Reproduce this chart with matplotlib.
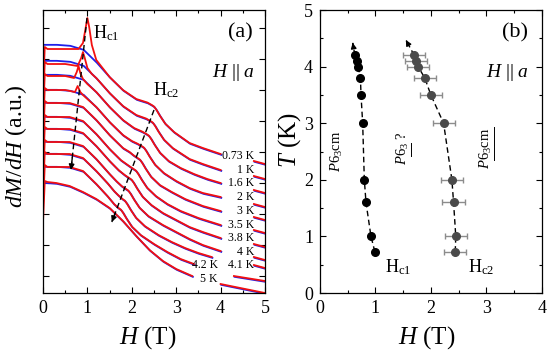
import numpy as np
import matplotlib
matplotlib.use("Agg")
import matplotlib.pyplot as plt
from matplotlib.ticker import MultipleLocator, NullFormatter
from matplotlib.transforms import offset_copy

plt.rcParams["font.family"] = "Liberation Serif"
plt.rcParams["mathtext.fontset"] = "custom"
plt.rcParams["mathtext.rm"] = "Liberation Serif"
plt.rcParams["mathtext.it"] = "Liberation Serif:italic"
plt.rcParams["mathtext.bf"] = "Liberation Serif:bold"

RED = "#f21010"
BLUE = "#2020e8"

# ---- panel (a): dM/dH curves, stacked (a.u.) ----
temps = ["0.73 K", "1 K", "1.6 K", "2 K", "3 K", "3.5 K", "3.8 K", "4 K", "4.1 K", "4.2 K", "5 K"]

# down sweep (blue), full curve up to where the label starts
sweep_h = [
    [0, 0.3, 0.6, 0.9, 1.2, 1.5, 1.8, 2.1, 2.35, 2.45, 2.5, 2.55, 2.63, 2.75, 2.95, 3.3, 3.6, 4.0],
    [0, 0.3, 0.6, 0.9, 1.2, 1.5, 1.8, 2.1, 2.32, 2.42, 2.47, 2.52, 2.6, 2.72, 2.92, 3.3, 3.6, 4.0],
    [0, 0.3, 0.6, 0.9, 1.2, 1.5, 1.8, 2.05, 2.23, 2.33, 2.38, 2.43, 2.51, 2.63, 2.83, 3.1, 3.4, 3.7, 4.0],
    [0, 0.3, 0.6, 0.9, 1.2, 1.5, 1.8, 2.0, 2.12, 2.22, 2.27, 2.32, 2.4, 2.52, 2.72, 3.0, 3.3, 3.6, 4.0],
    [0, 0.3, 0.6, 0.9, 1.2, 1.5, 1.8, 1.95, 2.03, 2.13, 2.18, 2.23, 2.31, 2.43, 2.63, 2.9, 3.2, 3.6, 4.0],
    [0, 0.3, 0.6, 0.9, 1.2, 1.5, 1.75, 1.94, 2.04, 2.09, 2.14, 2.22, 2.34, 2.54, 2.8, 3.1, 3.5, 4.0],
    [0, 0.3, 0.6, 0.9, 1.2, 1.5, 1.7, 1.84, 1.94, 1.99, 2.04, 2.12, 2.24, 2.44, 2.7, 3.0, 3.3, 3.6, 4.0],
    [0, 0.3, 0.6, 0.9, 1.2, 1.5, 1.65, 1.77, 1.87, 1.92, 1.97, 2.05, 2.17, 2.37, 2.7, 3.0, 3.3, 3.6, 4.0],
    [0, 0.3, 0.6, 0.9, 1.2, 1.45, 1.6, 1.69, 1.79, 1.84, 1.89, 1.97, 2.09, 2.29, 2.6, 2.9, 3.2, 3.5, 3.8],
    [0, 0.3, 0.6, 0.9, 1.2, 1.45, 1.6, 1.7, 1.75, 1.8, 1.88, 2.0, 2.2, 2.5, 2.8, 3.1, 3.4],
    [0, 0.3, 0.6, 0.9, 1.2, 1.5, 1.8, 2.1, 2.4, 2.7, 3.0, 3.36],
]
sweep_dn = [
    [25.6, 25.6, 25.5, 25.1, 23.8, 22.3, 21.0, 20.1, 19.75, 19.5, 19.35, 19.05, 18.45, 17.65, 16.8, 15.7, 15.2, 14.6],
    [24.0, 24.0, 23.9, 23.5, 22.2, 20.7, 19.4, 18.5, 18.15, 17.9, 17.75, 17.45, 16.85, 16.05, 15.2, 14.1, 13.6, 13.0],
    [22.6, 22.6, 22.5, 22.1, 20.8, 19.3, 18.0, 17.2, 16.85, 16.6, 16.45, 16.15, 15.55, 14.75, 13.9, 13.2, 12.6, 12.1, 11.7],
    [21.1, 21.1, 21.0, 20.6, 19.3, 17.8, 16.5, 15.9, 15.65, 15.4, 15.25, 14.95, 14.35, 13.55, 12.7, 11.9, 11.2, 10.7, 10.3],
    [19.8, 19.8, 19.7, 19.3, 18.0, 16.5, 15.2, 14.8, 14.5, 14.2, 14.05, 13.75, 13.15, 12.35, 11.5, 10.8, 10.1, 9.4, 8.9],
    [18.4, 18.4, 18.3, 17.9, 16.6, 15.1, 14.0, 13.4, 13.1, 12.95, 12.65, 12.05, 11.25, 10.4, 9.6, 8.9, 8.2, 7.5],
    [17.2, 17.2, 17.1, 16.7, 15.4, 13.9, 13.0, 12.5, 12.2, 12.05, 11.75, 11.15, 10.35, 9.5, 8.7, 8.0, 7.3, 6.8, 6.2],
    [15.9, 15.9, 15.8, 15.4, 14.1, 12.6, 11.9, 11.4, 11.1, 10.95, 10.65, 10.05, 9.25, 8.4, 7.5, 6.8, 6.1, 5.5, 4.9],
    [14.7, 14.7, 14.6, 14.2, 12.9, 11.7, 10.9, 10.5, 10.1, 9.95, 9.65, 9.05, 8.25, 7.4, 6.5, 5.8, 5.2, 4.7, 4.3],
    [13.4, 13.4, 13.3, 12.9, 11.6, 10.4, 9.6, 9.2, 9.05, 8.75, 8.15, 7.35, 6.5, 5.6, 4.8, 4.1, 3.6],
    [11.8, 11.7, 11.4, 10.8, 10.1, 9.2, 7.9, 6.4, 5.0, 3.9, 3.1, 2.4],
]

# up sweep (red) at low field, where it differs from the down sweep
up_h = [
    [0, 0.04, 0.1, 0.5, 0.8, 0.9, 0.96, 1.0, 1.04, 1.1, 1.2],
    [0, 0.04, 0.1, 0.5, 0.78, 0.86, 0.9, 0.94, 1.0, 1.1],
    [0, 0.04, 0.1, 0.5, 0.7, 0.76, 0.8, 0.84, 0.9, 1.0],
    [0, 0.04, 0.1, 0.5, 0.72, 0.78, 0.84, 0.9, 1.0],
    [0, 0.04, 0.1, 0.5],
    [0, 0.04, 0.1, 0.5],
    [0, 0.04, 0.1, 0.5],
    [0, 0.04, 0.1, 0.5],
    [0, 0.04, 0.1, 0.5],
    [0, 0.04, 0.1, 0.5],
    [0, 0.04, 0.1, 0.3],
]
up_low = [
    [21.1, 25.3, 25.1, 25.1, 25.1, 25.7, 27.2, 28.2, 27.3, 25.5, 24.0],
    [19.6, 23.8, 23.6, 23.6, 23.4, 24.2, 24.8, 24.2, 23.2, 22.6],
    [18.4, 22.6, 22.4, 22.4, 22.2, 22.8, 23.4, 22.7, 22.1, 21.6],
    [16.9, 21.2, 21.0, 21.0, 20.8, 21.4, 20.8, 20.5, 20.1],
    [15.8, 19.9, 19.7, 19.7],
    [14.4, 18.5, 18.3, 18.3],
    [13.2, 17.3, 17.1, 17.1],
    [11.9, 16.0, 15.8, 15.8],
    [10.7, 14.8, 14.6, 14.6],
    [9.4, 13.5, 13.3, 13.3],
    [7.8, 11.9, 11.8, 11.7],
]

# short pieces of the curves right of the labels
tail_h = [[4.75, 5.0]] * 9 + [[4.3, 5.0], [4.0, 5.0]]
tail_m = [
    [13.9, 13.6], [12.4, 12.1], [11.0, 10.7], [9.6, 9.3], [8.3, 8.0],
    [7.0, 6.7], [5.6, 5.3], [4.3, 4.0], [3.5, 3.2], [2.4, 1.9], [1.6, 0.7],
]
label_h = [4.75] * 9 + [3.94, 3.94]
label_m = [14.4, 13.0, 11.7, 10.3, 8.9, 7.5, 6.2, 4.8, 3.5, 3.5, 2.1]

# ---- panel (b): phase diagram ----
t_pts = [0.73, 1.0, 1.6, 2.0, 3.0, 3.5, 3.8, 4.0, 4.1, 4.2]
hc1 = [0.99, 0.92, 0.83, 0.80, 0.77, 0.74, 0.73, 0.69, 0.67, 0.63]
hc2 = [2.44, 2.45, 2.41, 2.38, 2.23, 2.00, 1.89, 1.77, 1.73, 1.70]
hc2_err = [0.2] * 10


def style_axes(ax):
    ax.tick_params(which="both", direction="in", top=True, right=True, width=0.8)
    ax.tick_params(which="major", length=4, labelsize=13, pad=5,
                   labelfontfamily="Liberation Serif")
    ax.tick_params(which="minor", length=2.3)
    for sp in ax.spines.values():
        sp.set_linewidth(0.9)


def dashed_arrow(ax, start, tip):
    ax.plot([start[0], tip[0]], [start[1], tip[1]], color="k", lw=1, dashes=(4, 2.5))
    back = (tip[0] - 0.08 * (tip[0] - start[0]), tip[1] - 0.08 * (tip[1] - start[1]))
    ax.annotate("", xy=tip, xytext=back,
                arrowprops=dict(arrowstyle="-|>", color="k", lw=1, mutation_scale=8,
                                shrinkA=0, shrinkB=0))


def underline(ax, txt, f0, f1):
    # mathtext has no \underline: draw it beside the rotated text
    bb = txt.get_window_extent().transformed(ax.transData.inverted())
    y0 = bb.y0 + f0 * (bb.y1 - bb.y0)
    y1 = bb.y0 + f1 * (bb.y1 - bb.y0)
    ax.plot([bb.x1 - 0.005, bb.x1 - 0.005], [y0, y1], color="k", lw=0.7)


fig = plt.figure(figsize=(5.5, 3.51), dpi=100)
ax_a = fig.add_axes([0.0782, 0.1652, 0.4036, 0.8063])
ax_b = fig.add_axes([0.5818, 0.1652, 0.4031, 0.8063])

# panel (a)
shift = offset_copy(ax_a.transData, fig=fig, x=0.5, y=-0.6, units="points")
for i in range(len(temps)):
    ax_a.plot(sweep_h[i], sweep_dn[i], color=BLUE, lw=1.3, transform=shift)
    ax_a.plot(tail_h[i], tail_m[i], color=BLUE, lw=1.3, transform=shift)
for i in range(len(temps)):
    h = np.array(sweep_h[i])
    m = np.array(sweep_dn[i])
    keep = h > up_h[i][-1]
    ax_a.plot(np.concatenate([up_h[i], h[keep]]), np.concatenate([up_low[i], m[keep]]),
              color=RED, lw=1.3)
    ax_a.plot(tail_h[i], tail_m[i], color=RED, lw=1.3)
    ax_a.text(label_h[i], label_m[i], temps[i], fontsize=8.5, ha="right", va="center")

dashed_arrow(ax_a, (0.99, 28.2), (0.63, 13.0))
dashed_arrow(ax_a, (2.5, 19.0), (1.55, 7.8))

ax_a.text(1.12, 26.7, r"H$_{\rm c1}$", fontsize=13, va="center")
ax_a.text(2.48, 21.0, r"H$_{\rm c2}$", fontsize=13, va="center")
ax_a.text(4.44, 26.7, "(a)", fontsize=16, ha="center", va="center")
ax_a.text(4.3, 22.8, r"$H$ || $a$", fontsize=14, ha="center", va="center")

ax_a.set_xlim(0, 5)
ax_a.set_ylim(0.7, 29.0)
ax_a.xaxis.set_major_locator(MultipleLocator(1))
ax_a.xaxis.set_minor_locator(MultipleLocator(0.5))
ax_a.set_yticks(np.arange(2.4, 28, 3.1))
ax_a.yaxis.set_major_formatter(NullFormatter())
style_axes(ax_a)
ax_a.set_xlabel(r"$H$ (T)", fontsize=18)
ax_a.set_ylabel(r"$dM/dH$ (a.u.)", fontsize=17)
ax_a.xaxis.set_label_coords(0.47, -0.11)
ax_a.yaxis.set_label_coords(-0.065, 0.52)

# panel (b)
ax_b.plot(hc1, t_pts, color="k", lw=1, dashes=(4, 2.5))
dashed_arrow(ax_b, (hc1[-1], t_pts[-1]), (0.59, 4.42))
ax_b.plot(hc2, t_pts, color="k", lw=1, dashes=(4, 2.5))
dashed_arrow(ax_b, (hc2[-1], t_pts[-1]), (1.55, 4.47))
ax_b.plot(hc1, t_pts, "o", color="k", ms=5.5)
ax_b.errorbar(hc2, t_pts, xerr=hc2_err, fmt="o", color="#4a4a4a", ms=5.5,
              ecolor="#8c8c8c", elinewidth=1, capsize=2.2, capthick=1)

ax_b.set_xlim(0, 4)
ax_b.set_ylim(0, 5)

ax_b.text(0.31, 2.5, r"$P6_3\mathrm{cm}$", fontsize=10.5, rotation=90, ha="center", va="center")
phase2 = ax_b.text(1.5, 2.56, r"$P6_3$ ?", fontsize=10.5, rotation=90, ha="center", va="center")
phase3 = ax_b.text(3.0, 2.56, r"$P6_3\mathrm{cm}$", fontsize=10.5, rotation=90,
                   ha="center", va="center")
ax_b.text(1.17, 0.45, r"H$_{\rm c1}$", fontsize=13, va="center")
ax_b.text(2.67, 0.45, r"H$_{\rm c2}$", fontsize=13, va="center")
ax_b.text(3.52, 4.59, "(b)", fontsize=16, ha="center", va="center")
ax_b.text(3.38, 3.9, r"$H$ || $a$", fontsize=14, ha="center", va="center")

ax_b.xaxis.set_major_locator(MultipleLocator(1))
ax_b.xaxis.set_minor_locator(MultipleLocator(0.5))
ax_b.yaxis.set_major_locator(MultipleLocator(1))
ax_b.yaxis.set_minor_locator(MultipleLocator(0.5))
style_axes(ax_b)
ax_b.set_xlabel(r"$H$ (T)", fontsize=18)
ax_b.set_ylabel(r"$T$ (K)", fontsize=18)
ax_b.xaxis.set_label_coords(0.48, -0.11)
ax_b.yaxis.set_label_coords(-0.075, 0.54)

fig.canvas.draw()
underline(ax_b, phase2, 0.27, 0.66)
underline(ax_b, phase3, 0.22, 0.52)
underline(ax_b, phase3, 0.56, 1.0)

fig.savefig("out.png", dpi=100)
